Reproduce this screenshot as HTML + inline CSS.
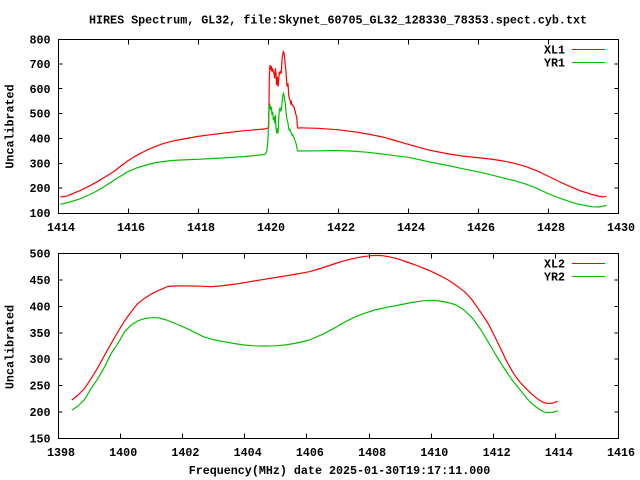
<!DOCTYPE html>
<html>
<head>
<meta charset="utf-8">
<style>
  html,body{margin:0;padding:0;background:#fff;}
  svg{display:block;}
  text{font-family:"Liberation Mono","DejaVu Sans Mono",monospace;font-size:11.7px;font-weight:bold;fill:#000;}
</style>
</head>
<body>
<svg width="640" height="480" viewBox="0 0 640 480" xmlns="http://www.w3.org/2000/svg">
  <rect x="0" y="0" width="640" height="480" fill="#fff"/>

  <!-- Title -->
  <text x="338" y="23.5" text-anchor="middle">HIRES Spectrum, GL32, file:Skynet_60705_GL32_128330_78353.spect.cyb.txt</text>

  <!-- ================= TOP PLOT ================= -->
  <g stroke="#000" stroke-width="1" fill="none" shape-rendering="crispEdges">
    <rect x="58.5" y="39.5" width="560" height="174"/>
    <path d="M58.5 63.9h4 M618.5 63.9h-4
             M58.5 88.7h4 M618.5 88.7h-4
             M58.5 113.6h4 M618.5 113.6h-4
             M58.5 138.4h4 M618.5 138.4h-4
             M58.5 163.3h4 M618.5 163.3h-4
             M58.5 188.1h4 M618.5 188.1h-4"/>
    <path d="M128.5 213.5v-5 M128.5 39.5v5
             M198.5 213.5v-5 M198.5 39.5v5
             M268.5 213.5v-5 M268.5 39.5v5
             M338.5 213.5v-5 M338.5 39.5v5
             M408.5 213.5v-5 M408.5 39.5v5
             M478.5 213.5v-5 M478.5 39.5v5
             M548.5 213.5v-5 M548.5 39.5v5"/>
  </g>
  <g text-anchor="end">
    <text x="50.5" y="43.5">800</text>
    <text x="50.5" y="68">700</text>
    <text x="50.5" y="92.8">600</text>
    <text x="50.5" y="117.7">500</text>
    <text x="50.5" y="142.5">400</text>
    <text x="50.5" y="167.4">300</text>
    <text x="50.5" y="192.2">200</text>
    <text x="50.5" y="217.2">100</text>
  </g>
  <g text-anchor="middle">
    <text x="61" y="231">1414</text>
    <text x="131" y="231">1416</text>
    <text x="201" y="231">1418</text>
    <text x="271" y="231">1420</text>
    <text x="341" y="231">1422</text>
    <text x="411" y="231">1424</text>
    <text x="481" y="231">1426</text>
    <text x="551" y="231">1428</text>
    <text x="621" y="231">1430</text>
  </g>
  <text transform="translate(13.5,126.5) rotate(-90)" text-anchor="middle">Uncalibrated</text>

  <!-- legend top -->
  <text x="565" y="53.5" text-anchor="end">XL1</text>
  <text x="565" y="66.5" text-anchor="end">YR1</text>
  <path d="M572 49.5H605" stroke="#ff0000" stroke-width="1" shape-rendering="crispEdges"/>
  <path d="M572 62.5H605" stroke="#00c000" stroke-width="1" shape-rendering="crispEdges"/>

  <!-- XL1 -->
  <polyline fill="none" stroke="#ff0000" stroke-width="1.2" stroke-linejoin="miter"
    points="60.4,196.9 66.6,196.2 73,193.4 80.9,190.2 89,186.2 97.2,181.8 105,177 113.5,171.7 120,166.6 127.8,160.9 135,156.3 142.1,152.5 152,147.8 162.5,143.8 172,141.2 182.9,139.1 198,136.4 210,134.8 223.7,133.1 244.1,130.7 264.5,129.0 267.3,128.3 268.7,127.3 269.3,78.3 270,65 270.7,70 271.3,66 272,71.7 272.7,68.3 273.3,71.7 274,73.3 274.7,78.3 275.3,68.3 276,73.3 276.7,85 277.3,76.7 278,86.7 278.7,80 279.3,71.7 280,73.3 280.7,71.7 281.3,73.3 282,60 282.7,55 283.3,51.7 284,52.7 284.7,58.3 285.3,65 286,71.7 286.7,83.3 287.3,86.7 288,83.3 288.7,95 289.3,98.3 290,100 290.7,103.3 291.3,101.7 292,105 292.7,105 293.3,106.7 294,106.7 294.7,110 295.3,111.7 296,115 296.7,116.7 297.3,125 298,128.3 300,127.8 318,128.3 337.6,129.7 358.4,132.4 370,134.5 382.9,137.1 395,140.5 407.4,144.1 427.8,149.8 448.2,153.9 462,156 477.6,157.6 490,159 501.3,160.6 514,163.2 525.8,166.6 537,170.8 547.8,176 559,181.5 570.7,186.8 581,191 591.1,194.2 598,196.1 603.3,196.9 606.6,196.2"/>

  <!-- YR1 -->
  <polyline fill="none" stroke="#00c000" stroke-width="1.2" stroke-linejoin="miter"
    points="60.4,204.3 70,202 80.9,198.6 91,194 101.3,188.5 114,180.3 127.8,171.7 137,167.8 146.2,165 154,163 162.5,161.6 172,160.5 182.9,159.9 198,159.3 210,158.6 223.7,157.9 244.1,156.6 260,155 265,154.3 266.7,151.7 268,140 268.7,116.7 269.3,106.7 270,105 270.7,110 271.3,106.7 272,115 272.7,111.7 273.3,120 274,116.7 274.7,123.3 275.3,115 276,126.7 276.7,133.3 277.3,128.3 278,133.3 278.7,120 279.3,110 280,108.3 280.7,110.7 281.3,110 282,103.3 282.7,96.7 283.3,93.3 284,95 284.7,100 285.3,103.3 286,111.7 286.7,118.3 287.3,120 288,123.3 288.7,128.3 289.3,130 290,129.3 290.7,131.7 291.3,133.3 292,135 292.7,134.3 293.3,136.7 294,137.3 294.7,140 295.3,141.7 296,143.3 296.7,146.7 297.3,150 298,151 320,150.8 337.6,150.5 352,151.1 366.6,152.2 379,153.6 391.1,155.2 407.4,157.2 417,159.2 427.8,161.6 448.2,165.6 462,168.6 477.6,171.7 490,174.6 501.3,177.4 514,180.6 525.8,184.1 537,188.4 547.8,193.5 559,197.9 570.7,201.9 579,204.3 587.1,205.9 593,206.8 599.3,207 606.6,205.3"/>

  <!-- ================= BOTTOM PLOT ================= -->
  <g stroke="#000" stroke-width="1" fill="none" shape-rendering="crispEdges">
    <rect x="58.5" y="253.5" width="560" height="185"/>
    <path d="M58.5 279.9h4 M618.5 279.9h-4
             M58.5 306.4h4 M618.5 306.4h-4
             M58.5 332.8h4 M618.5 332.8h-4
             M58.5 359.2h4 M618.5 359.2h-4
             M58.5 385.6h4 M618.5 385.6h-4
             M58.5 412.1h4 M618.5 412.1h-4"/>
    <path d="M120.5 438.5v-5 M120.5 253.5v5
             M182.5 438.5v-5 M182.5 253.5v5
             M244.5 438.5v-5 M244.5 253.5v5
             M306.5 438.5v-5 M306.5 253.5v5
             M369.5 438.5v-5 M369.5 253.5v5
             M431.5 438.5v-5 M431.5 253.5v5
             M493.5 438.5v-5 M493.5 253.5v5
             M555.5 438.5v-5 M555.5 253.5v5"/>
  </g>
  <g text-anchor="end">
    <text x="50.5" y="257.5">500</text>
    <text x="50.5" y="283.9">450</text>
    <text x="50.5" y="310.4">400</text>
    <text x="50.5" y="336.8">350</text>
    <text x="50.5" y="363.2">300</text>
    <text x="50.5" y="389.6">250</text>
    <text x="50.5" y="416.1">200</text>
    <text x="50.5" y="442.5">150</text>
  </g>
  <g text-anchor="middle">
    <text x="61" y="456">1398</text>
    <text x="123.2" y="456">1400</text>
    <text x="185.4" y="456">1402</text>
    <text x="247.7" y="456">1404</text>
    <text x="309.9" y="456">1406</text>
    <text x="372.1" y="456">1408</text>
    <text x="434.3" y="456">1410</text>
    <text x="496.6" y="456">1412</text>
    <text x="558.8" y="456">1414</text>
    <text x="621" y="456">1416</text>
  </g>
  <text transform="translate(13.5,347) rotate(-90)" text-anchor="middle">Uncalibrated</text>
  <text x="339.5" y="474" text-anchor="middle">Frequency(MHz) date 2025-01-30T19:17:11.000</text>

  <!-- legend bottom -->
  <text x="565" y="267.5" text-anchor="end">XL2</text>
  <text x="565" y="280.5" text-anchor="end">YR2</text>
  <path d="M572 263.5H605" stroke="#ff0000" stroke-width="1" shape-rendering="crispEdges"/>
  <path d="M572 276.5H605" stroke="#00c000" stroke-width="1" shape-rendering="crispEdges"/>

  <!-- XL2 -->
  <polyline fill="none" stroke="#ff0000" stroke-width="1.2" stroke-linejoin="round"
    points="72,400 78,395 84.7,388.3 91.3,378.3 98,367.3 104.7,355 111.3,343.3 118,331.7 124.7,320.7 131.3,311.7 138,303.3 144.7,298.3 151.3,294 158,290.7 168,286.5 174.7,286 182,285.8 191.1,286 200,286.2 211.5,286.7 220,286 227.8,285 236,284 244.1,282.7 254,281 264.5,279.3 275,277.6 284.9,276 297,274 309.4,271.7 322,268 333.9,264 344,260.8 354.3,258.3 362,256.8 370.7,255.7 376,255.4 382.9,255.7 391,257.2 399.2,259.3 407,262 415.5,265 424,268.3 431.9,271.7 440,275.6 448.2,280 456,285.3 464.5,291.7 471,298.5 476.8,306.7 483,315.5 489,325 495,337 501.3,350 507,362 513.5,373.3 519.5,381.6 525.8,388.3 532,394.3 538.1,399.3 542,401.8 546.2,403.3 550,403.4 554.4,402.7 557.6,401"/>

  <!-- YR2 -->
  <polyline fill="none" stroke="#00c000" stroke-width="1.2" stroke-linejoin="round"
    points="72,410 78,406 84.7,399.3 91.3,388.3 98,378.3 104.7,366.7 111.3,353.3 118,343.3 124.7,331.7 131.3,325 138,320.7 144.7,318.7 151.3,317.7 158,317.7 166.6,320 174,323 182.9,326.7 193,331.6 203.3,336.7 213,339.6 223.7,341.7 234,343.5 244.1,345 254,345.8 264.5,346 275,345.8 284.9,345 297,343 309.4,340 322,334.6 333.9,328.3 344,322.5 354.3,317.3 364,313.4 374.7,310 387,307.3 399.2,305 411,302.6 423.7,300.7 432,300.4 440,301 448,302.6 456.3,305 464,310 472.6,318.3 481,330 489,343.3 497,357 505.3,370 511,378.6 517.6,386.7 524,394.6 529.8,401.7 536,407 542.1,411 546,412.5 550.3,412.7 554,412 557.6,410.7"/>
</svg>
</body>
</html>
